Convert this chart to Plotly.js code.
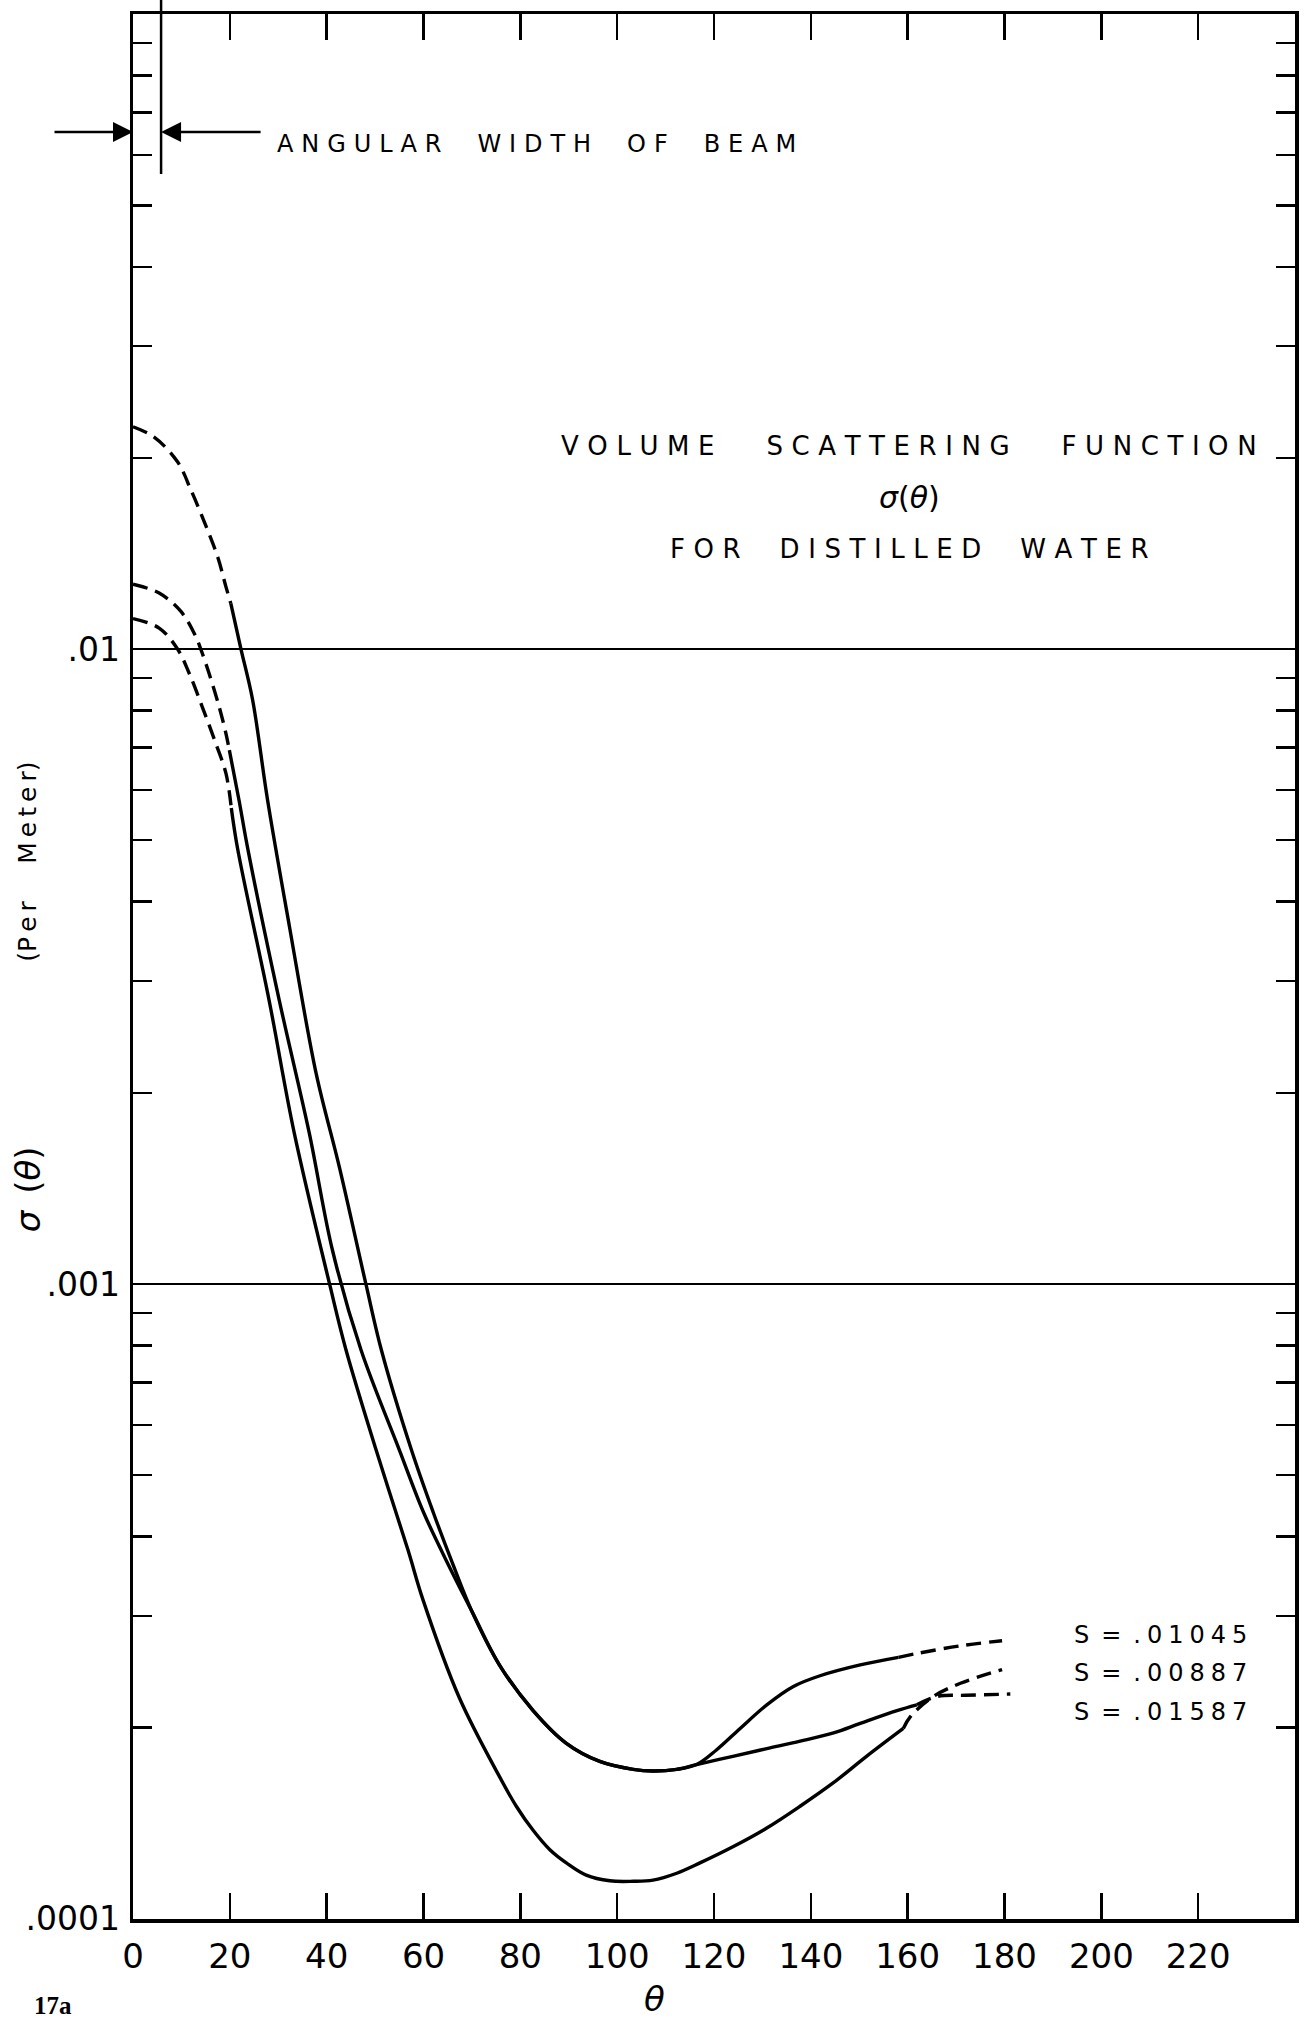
<!DOCTYPE html>
<html>
<head>
<meta charset="utf-8">
<script src="https://cdn.plot.ly/plotly-3.0.1.min.js"></script>
<style>
  html, body { margin: 0; padding: 0; background: #fff; }
  #chart { width: 1305px; height: 2022px; }
</style>
</head>
<body>
<div id="chart"></div>
<script>
// ---- Data (theta in degrees, sigma per metre) ----
// S = .01045 (upper curve at the far right)
const thetaA_headDash = [0, 4.3, 9.2, 12, 15, 17.5, 19.2, 20.2];
const sigmaA_headDash = [0.02239, 0.02158, 0.01972, 0.01778, 0.01567, 0.01396, 0.01253, 0.01180];
const thetaA_solid = [20.2, 22.3, 24.7, 27.8, 32.3, 37.8, 42.6, 48.1, 51.3, 57.5, 62, 66, 70, 75.7, 82.6, 89.5, 96.4, 103.3, 107.4, 112.3, 116.4, 120.5, 125.4, 130.9, 136.4, 141.9, 150.2, 158.1];
const sigmaA_solid = [0.01180, 0.01000, 0.00832, 0.00578, 0.00366, 0.00215, 0.00153, 0.00100, 0.000787, 0.000548, 0.000437, 0.000363, 0.000305, 0.000251, 0.000213, 0.000189, 0.000177, 0.000172, 0.000171, 0.000172, 0.000175, 0.0001845, 0.0001995, 0.0002173, 0.0002323, 0.0002415, 0.0002512, 0.0002582];
const thetaA_tailDash = [158.1, 161.9, 170.9, 179.5];
const sigmaA_tailDash = [0.0002582, 0.0002618, 0.0002692, 0.0002742];

// S = .01587 (lowest curve at the far right)
const thetaB_headDash = [0, 5.4, 9.9, 13, 14, 15.7, 17.8, 19.2, 19.9];
const sigmaB_headDash = [0.01265, 0.01225, 0.01146, 0.01045, 0.01000, 0.00916, 0.00811, 0.00736, 0.00693];
const thetaB_solid = [19.9, 21.9, 23.7, 30.2, 36.4, 41.2, 47.1, 55.0, 60, 65, 70, 75.7, 82.6, 89.5, 96.4, 103.3, 107.4, 112.3, 116.4, 123.9, 130.9, 137.8, 144.7, 150.2, 157.8, 161.9];
const sigmaB_solid = [0.00693, 0.00578, 0.00485, 0.00280, 0.00173, 0.00113, 0.000787, 0.000548, 0.000437, 0.000363, 0.000305, 0.000251, 0.000213, 0.000189, 0.000177, 0.000172, 0.000171, 0.000172, 0.000175, 0.0001803, 0.0001854, 0.0001905, 0.0001963, 0.0002032, 0.0002128, 0.0002173];
const thetaB_tailDash = [161.9, 166, 172, 181.2];
const sigmaB_tailDash = [0.0002173, 0.000224, 0.000225, 0.000226];

// S = .00887 (lowest curve in the middle)
const thetaC_headDash = [0, 5.4, 9.2, 11.6, 14.3, 17.1, 19.2, 20.3];
const sigmaC_headDash = [0.01117, 0.01079, 0.01000, 0.00916, 0.00811, 0.00710, 0.00637, 0.00562];
const thetaC_solid = [20.3, 21.6, 28.1, 33.3, 40.6, 44.0, 50.2, 56.8, 59.9, 67.4, 75.7, 79.2, 82.6, 86.1, 89.5, 93.6, 98.5, 103.3, 107.4, 112.3, 117.1, 124.0, 130.9, 137.7, 144.6, 151.5, 159.1];
const sigmaC_solid = [0.00562, 0.00485, 0.00280, 0.00173, 0.00100, 0.000787, 0.000548, 0.000381, 0.000318, 0.000223, 0.0001675, 0.0001503, 0.0001380, 0.0001285, 0.0001225, 0.0001172, 0.0001148, 0.0001146, 0.0001151, 0.0001180, 0.0001225, 0.0001300, 0.0001390, 0.0001503, 0.0001637, 0.0001803, 0.0001995];
const thetaC_tailDash = [159.1, 160.6, 165.3, 170.9, 179.5];
const sigmaC_tailDash = [0.0001995, 0.0002084, 0.000224, 0.000235, 0.000247];

// Axis ticks
const xTickVals = [0, 20, 40, 60, 80, 100, 120, 140, 160, 180, 200, 220];
const xTickText = ["0", "20", "40", "60", "80", "100", "120", "140", "160", "180", "200", "220"];
const yTickVals = [0.0001, 0.001, 0.01, 0.1];
const yTickText = [".0001", ".001", ".01", ".1"];
const yMinorDecades = [0.0001, 0.001, 0.01];
const yMinorMultipliers = [2, 3, 4, 5, 6, 7, 8, 9];

// Curve labels
const curveLabelS = [".01045", ".00887", ".01587"];
const curveLabelY = [0.000280, 0.000244, 0.000212];

// ---- Build traces ----
const solidLine = { color: '#000', width: 3.4, shape: 'spline', smoothing: 1 };
const dashLine = { color: '#000', width: 3.4, shape: 'spline', smoothing: 1, dash: '15px,8px' };
function tr(x, y, line) { return { x: x, y: y, type: 'scatter', mode: 'lines', line: line, hoverinfo: 'skip', showlegend: false }; }

const traces = [
  tr(thetaA_headDash, sigmaA_headDash, dashLine),
  tr(thetaA_solid, sigmaA_solid, solidLine),
  tr(thetaA_tailDash, sigmaA_tailDash, dashLine),
  tr(thetaB_headDash, sigmaB_headDash, dashLine),
  tr(thetaB_solid, sigmaB_solid, solidLine),
  tr(thetaB_tailDash, sigmaB_tailDash, dashLine),
  tr(thetaC_headDash, sigmaC_headDash, dashLine),
  tr(thetaC_solid, sigmaC_solid, solidLine),
  tr(thetaC_tailDash, sigmaC_tailDash, dashLine)
];

const minorVals = [];
yMinorDecades.forEach(d => yMinorMultipliers.forEach(m => minorVals.push(d * m)));

const FONT = 'DejaVu Sans, Liberation Sans, sans-serif';
const sp = s => s.split('').join('\u2004');
const WG = '\u2003\u2003';
const WG2 = '\u2003\u2002';

const lg = v => Math.log10(v);
const beamTheta = 5.8;
const arrowSigma = 0.0652;

const annotations = [
  { x: 160.3, y: lg(0.0209), xref: 'x', yref: 'y', showarrow: false, xanchor: 'center', yanchor: 'middle',
    text: sp('VOLUME') + WG + sp('SCATTERING') + WG + sp('FUNCTION'),
    font: { family: FONT, size: 26, color: '#000' } },
  { x: 160.3, y: lg(0.0173), xref: 'x', yref: 'y', showarrow: false, xanchor: 'center', yanchor: 'middle',
    text: '<i>σ</i>(<i>θ</i>)', font: { family: FONT, size: 30, color: '#000' } },
  { x: 160.3, y: lg(0.0144), xref: 'x', yref: 'y', showarrow: false, xanchor: 'center', yanchor: 'middle',
    text: sp('FOR') + WG2 + sp('DISTILLED') + WG2 + sp('WATER'),
    font: { family: FONT, size: 26, color: '#000' } },
  { x: 29.3, y: lg(0.0624), xref: 'x', yref: 'y', showarrow: false, xanchor: 'left', yanchor: 'middle',
    text: sp('ANGULAR') + WG2 + sp('WIDTH') + WG2 + sp('OF') + WG2 + sp('BEAM'),
    font: { family: FONT, size: 24, color: '#000' } },
  // arrows marking the angular width of the beam
  { x: 0, y: lg(arrowSigma), xref: 'x', yref: 'y', text: '', showarrow: true, ax: -80, ay: 0,
    arrowhead: 2, arrowsize: 1.6, arrowwidth: 2.5, arrowcolor: '#000', standoff: 0 },
  { x: beamTheta, y: lg(arrowSigma), xref: 'x', yref: 'y', text: '', showarrow: true, ax: 101, ay: 0,
    arrowhead: 2, arrowsize: 1.6, arrowwidth: 2.5, arrowcolor: '#000', standoff: 0 },
  // y-axis title pieces
  { x: -0.0904, y: 0.383, xref: 'paper', yref: 'paper', showarrow: false, textangle: -90,
    xanchor: 'center', yanchor: 'middle',
    text: '<i>σ</i>\u2002(<i>θ</i>)', font: { family: FONT, size: 34, color: '#000' } },
  { x: -0.0904, y: 0.555, xref: 'paper', yref: 'paper', showarrow: false, textangle: -90,
    xanchor: 'center', yanchor: 'middle',
    text: '(' + 'Per'.split('').join('\u2009') + '\u2003\u2002' + 'Meter'.split('').join('\u2009') + ')',
    font: { family: FONT, size: 25, color: '#000' } },
  // x-axis title
  { x: 107.8, y: -0.0535, xref: 'x', yref: 'paper', showarrow: false, xanchor: 'center', yanchor: 'bottom',
    text: '<i>θ</i>', font: { family: FONT, size: 34, color: '#000' } },
  // figure number
  { x: -0.087, y: -0.0535, xref: 'paper', yref: 'paper', showarrow: false, xanchor: 'left', yanchor: 'bottom',
    text: '<b>17a</b>', font: { family: 'Liberation Serif, DejaVu Serif, serif', size: 25, color: '#000' } }
];
curveLabelS.forEach((s, i) => annotations.push({
  x: 193.9, y: lg(curveLabelY[i]), xref: 'x', yref: 'y', showarrow: false, xanchor: 'left', yanchor: 'middle',
  text: 'S\u2002=\u2002' + s.split('').join('\u2005'),
  font: { family: FONT, size: 24, color: '#000' }
}));

const layout = {
  width: 1305, height: 2022,
  margin: { l: 133, r: 10, t: 14, b: 103, pad: 0 },
  paper_bgcolor: '#fff', plot_bgcolor: '#fff',
  showlegend: false,
  xaxis: {
    range: [0, 240], type: 'linear',
    tickmode: 'array', tickvals: xTickVals, ticktext: xTickText,
    ticks: 'inside', ticklen: 26, tickwidth: 2.5, tickcolor: '#000',
    showline: true, linewidth: 3.5, linecolor: '#000', mirror: 'allticks',
    showgrid: false, zeroline: false,
    ticklabelstandoff: 5,
    tickfont: { family: FONT, size: 34, color: '#000' }
  },
  yaxis: {
    type: 'log', range: [-4.0002, -0.9998],
    tickmode: 'array', tickvals: yTickVals, ticktext: yTickText,
    ticks: 'inside', ticklen: 19, tickwidth: 2.5, tickcolor: '#000',
    showline: true, linewidth: 3.5, linecolor: '#000', mirror: 'allticks',
    showgrid: true, gridcolor: '#000', gridwidth: 1.8, zeroline: false,
    ticklabelstandoff: 3,
    tickfont: { family: FONT, size: 33, color: '#000' },
    minor: { tickmode: 'array', tickvals: minorVals, ticks: 'inside', ticklen: 19, tickwidth: 2.5, tickcolor: '#000', showgrid: false }
  },
  shapes: [
    { type: 'line', xref: 'x', yref: 'paper', x0: beamTheta, x1: beamTheta, y0: 0.916, y1: 1.0074,
      line: { color: '#000', width: 2.5 } }
  ],
  annotations: annotations
};

Plotly.newPlot('chart', traces, layout, { staticPlot: true, displayModeBar: false });
</script>
</body>
</html>
